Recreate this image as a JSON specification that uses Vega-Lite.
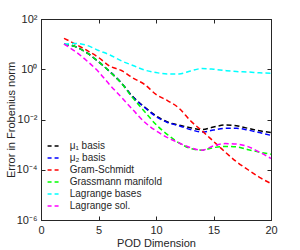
{
  "$schema": "https://vega.github.io/schema/vega-lite/v6.json",
  "width": 230,
  "height": 201,
  "autosize": "none",
  "padding": {"left": 41, "top": 19, "right": 29, "bottom": 30},
  "background": "white",
  "config": {
    "font": "Liberation Sans",
    "view": {"stroke": "#262626", "strokeWidth": 1},
    "axis": {
      "domainColor": "#262626", "tickColor": "#262626", "labelColor": "#262626", "titleColor": "#262626",
      "labelFont": "Liberation Sans", "titleFont": "Liberation Sans",
      "labelFontSize": 11, "titleFontSize": 11, "titleFontWeight": "normal",
      "grid": false, "tickSize": -4, "domainWidth": 1, "tickWidth": 1, "labelPadding": 8,
      "labelFlush": false, "labelOverlap": false
    }
  },
  "data": {"values": [
    {"d": 2, "s": "μ₁ basis", "v": 10}, {"d": 3, "s": "μ₁ basis", "v": 7.94}, {"d": 4, "s": "μ₁ basis", "v": 4.47}, {"d": 5, "s": "μ₁ basis", "v": 2.0}, {"d": 6, "s": "μ₁ basis", "v": 0.794}, {"d": 7, "s": "μ₁ basis", "v": 0.28}, {"d": 8, "s": "μ₁ basis", "v": 0.0794}, {"d": 9, "s": "μ₁ basis", "v": 0.0316}, {"d": 10, "s": "μ₁ basis", "v": 0.0141}, {"d": 11, "s": "μ₁ basis", "v": 0.00794}, {"d": 12, "s": "μ₁ basis", "v": 0.00603}, {"d": 13, "s": "μ₁ basis", "v": 0.00468}, {"d": 14, "s": "μ₁ basis", "v": 0.00398}, {"d": 15, "s": "μ₁ basis", "v": 0.00501}, {"d": 16, "s": "μ₁ basis", "v": 0.00603}, {"d": 17, "s": "μ₁ basis", "v": 0.00562}, {"d": 18, "s": "μ₁ basis", "v": 0.00447}, {"d": 19, "s": "μ₁ basis", "v": 0.00355}, {"d": 20, "s": "μ₁ basis", "v": 0.00302},
    {"d": 2, "s": "μ₂ basis", "v": 10}, {"d": 3, "s": "μ₂ basis", "v": 7.94}, {"d": 4, "s": "μ₂ basis", "v": 4.47}, {"d": 5, "s": "μ₂ basis", "v": 2.0}, {"d": 6, "s": "μ₂ basis", "v": 0.794}, {"d": 7, "s": "μ₂ basis", "v": 0.278}, {"d": 8, "s": "μ₂ basis", "v": 0.0759}, {"d": 9, "s": "μ₂ basis", "v": 0.0302}, {"d": 10, "s": "μ₂ basis", "v": 0.0132}, {"d": 11, "s": "μ₂ basis", "v": 0.00759}, {"d": 12, "s": "μ₂ basis", "v": 0.00562}, {"d": 13, "s": "μ₂ basis", "v": 0.00398}, {"d": 14, "s": "μ₂ basis", "v": 0.00316}, {"d": 15, "s": "μ₂ basis", "v": 0.0038}, {"d": 16, "s": "μ₂ basis", "v": 0.00447}, {"d": 17, "s": "μ₂ basis", "v": 0.00447}, {"d": 18, "s": "μ₂ basis", "v": 0.0038}, {"d": 19, "s": "μ₂ basis", "v": 0.00302}, {"d": 20, "s": "μ₂ basis", "v": 0.00234},
    {"d": 2, "s": "Gram-Schmidt", "v": 17}, {"d": 3, "s": "Gram-Schmidt", "v": 10}, {"d": 4, "s": "Gram-Schmidt", "v": 5.6}, {"d": 5, "s": "Gram-Schmidt", "v": 2.95}, {"d": 6, "s": "Gram-Schmidt", "v": 1.32}, {"d": 7, "s": "Gram-Schmidt", "v": 0.89}, {"d": 8, "s": "Gram-Schmidt", "v": 0.447}, {"d": 9, "s": "Gram-Schmidt", "v": 0.251}, {"d": 10, "s": "Gram-Schmidt", "v": 0.1}, {"d": 11, "s": "Gram-Schmidt", "v": 0.0562}, {"d": 12, "s": "Gram-Schmidt", "v": 0.0282}, {"d": 13, "s": "Gram-Schmidt", "v": 0.00891}, {"d": 14, "s": "Gram-Schmidt", "v": 0.00355}, {"d": 15, "s": "Gram-Schmidt", "v": 0.00135}, {"d": 16, "s": "Gram-Schmidt", "v": 0.000513}, {"d": 17, "s": "Gram-Schmidt", "v": 0.000209}, {"d": 18, "s": "Gram-Schmidt", "v": 0.0001}, {"d": 19, "s": "Gram-Schmidt", "v": 0.00005}, {"d": 20, "s": "Gram-Schmidt", "v": 0.0000282},
    {"d": 2, "s": "Grassmann manifold", "v": 10}, {"d": 3, "s": "Grassmann manifold", "v": 7.94}, {"d": 4, "s": "Grassmann manifold", "v": 4.47}, {"d": 5, "s": "Grassmann manifold", "v": 2.0}, {"d": 6, "s": "Grassmann manifold", "v": 0.794}, {"d": 7, "s": "Grassmann manifold", "v": 0.275}, {"d": 8, "s": "Grassmann manifold", "v": 0.0708}, {"d": 9, "s": "Grassmann manifold", "v": 0.0209}, {"d": 10, "s": "Grassmann manifold", "v": 0.00631}, {"d": 11, "s": "Grassmann manifold", "v": 0.00251}, {"d": 12, "s": "Grassmann manifold", "v": 0.00117}, {"d": 13, "s": "Grassmann manifold", "v": 0.000708}, {"d": 14, "s": "Grassmann manifold", "v": 0.000603}, {"d": 15, "s": "Grassmann manifold", "v": 0.000759}, {"d": 16, "s": "Grassmann manifold", "v": 0.000851}, {"d": 17, "s": "Grassmann manifold", "v": 0.000813}, {"d": 18, "s": "Grassmann manifold", "v": 0.000631}, {"d": 19, "s": "Grassmann manifold", "v": 0.000501}, {"d": 20, "s": "Grassmann manifold", "v": 0.000417},
    {"d": 2, "s": "Lagrange bases", "v": 10}, {"d": 3, "s": "Lagrange bases", "v": 10.7}, {"d": 4, "s": "Lagrange bases", "v": 8.9}, {"d": 5, "s": "Lagrange bases", "v": 5.6}, {"d": 6, "s": "Lagrange bases", "v": 3.7}, {"d": 7, "s": "Lagrange bases", "v": 2.14}, {"d": 8, "s": "Lagrange bases", "v": 1.41}, {"d": 9, "s": "Lagrange bases", "v": 0.93}, {"d": 10, "s": "Lagrange bases", "v": 0.74}, {"d": 11, "s": "Lagrange bases", "v": 0.646}, {"d": 12, "s": "Lagrange bases", "v": 0.646}, {"d": 13, "s": "Lagrange bases", "v": 0.85}, {"d": 14, "s": "Lagrange bases", "v": 1.07}, {"d": 15, "s": "Lagrange bases", "v": 1.0}, {"d": 16, "s": "Lagrange bases", "v": 0.89}, {"d": 17, "s": "Lagrange bases", "v": 0.81}, {"d": 18, "s": "Lagrange bases", "v": 0.776}, {"d": 19, "s": "Lagrange bases", "v": 0.724}, {"d": 20, "s": "Lagrange bases", "v": 0.69},
    {"d": 2, "s": "Lagrange sol.", "v": 10}, {"d": 3, "s": "Lagrange sol.", "v": 5.01}, {"d": 4, "s": "Lagrange sol.", "v": 2.14}, {"d": 5, "s": "Lagrange sol.", "v": 0.794}, {"d": 6, "s": "Lagrange sol.", "v": 0.234}, {"d": 7, "s": "Lagrange sol.", "v": 0.0759}, {"d": 8, "s": "Lagrange sol.", "v": 0.024}, {"d": 9, "s": "Lagrange sol.", "v": 0.00794}, {"d": 10, "s": "Lagrange sol.", "v": 0.00355}, {"d": 11, "s": "Lagrange sol.", "v": 0.00191}, {"d": 12, "s": "Lagrange sol.", "v": 0.00117}, {"d": 13, "s": "Lagrange sol.", "v": 0.000759}, {"d": 14, "s": "Lagrange sol.", "v": 0.000603}, {"d": 15, "s": "Lagrange sol.", "v": 0.000891}, {"d": 16, "s": "Lagrange sol.", "v": 0.0011}, {"d": 17, "s": "Lagrange sol.", "v": 0.00105}, {"d": 18, "s": "Lagrange sol.", "v": 0.000832}, {"d": 19, "s": "Lagrange sol.", "v": 0.000501}, {"d": 20, "s": "Lagrange sol.", "v": 0.000282}
  ]},
  "layer": [
    {
      "mark": {"type": "line", "strokeWidth": 1.5, "strokeDash": [5, 3], "interpolate": "monotone"},
      "encoding": {
        "x": {"field": "d", "type": "quantitative", "scale": {"domain": [0, 20], "nice": false},
          "axis": {"values": [0, 5, 10, 15, 20], "title": "POD Dimension", "titleX": 115, "titleY": 23, "titleBaseline": "middle"}},
        "y": {"field": "v", "type": "quantitative", "scale": {"type": "log", "domain": [0.000001, 100], "nice": false},
          "axis": {"values": [0.000001, 0.0001, 0.01, 1, 100],
            "labelExpr": "round(log(datum.value)/LN10) == 2 ? '10²' : round(log(datum.value)/LN10) == 0 ? '10⁰' : round(log(datum.value)/LN10) == -2 ? '10⁻²' : round(log(datum.value)/LN10) == -4 ? '10⁻⁴' : '10⁻⁶'",
            "title": "Error in Frobenius norm", "titleX": -30, "titleY": 100.5, "titleAngle": -90, "titleBaseline": "middle", "titleAlign": "center"}},
        "color": {"field": "s", "type": "nominal",
          "scale": {"domain": ["μ₁ basis", "μ₂ basis", "Gram-Schmidt", "Grassmann manifold", "Lagrange bases", "Lagrange sol."],
            "range": ["#000000", "#0000ff", "#ff0000", "#00ff00", "#00ffff", "#ff00ff"]},
          "legend": {"orient": "none", "legendX": 5.7, "legendY": 120, "title": null, "padding": 0,
            "symbolType": "stroke", "symbolStrokeWidth": 1.5, "symbolDash": [4, 3], "symbolSize": 150,
            "labelFontSize": 10, "labelFont": "Liberation Sans", "labelColor": "#262626",
            "rowPadding": 0, "labelOffset": 9, "labelLimit": 200}}
      }
    },
    {
      "mark": {"type": "point", "opacity": 0},
      "encoding": {
        "x": {"field": "d", "type": "quantitative", "axis": {"orient": "top", "values": [0, 5, 10, 15, 20], "labels": false, "title": null}},
        "y": {"field": "v", "type": "quantitative", "axis": {"orient": "right", "values": [0.000001, 0.0001, 0.01, 1, 100], "labels": false, "title": null}}
      }
    }
  ],
  "resolve": {"axis": {"x": "independent", "y": "independent"}}
}
